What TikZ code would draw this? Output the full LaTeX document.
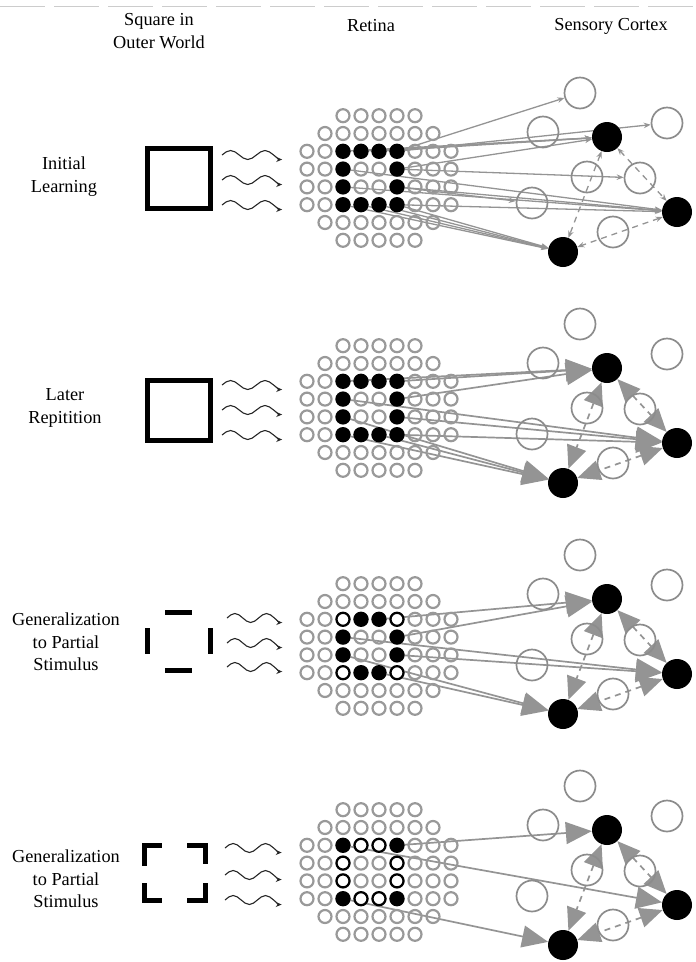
\documentclass[tikz,border=0pt]{standalone}
\usepackage{fontspec}
\setmainfont{Liberation Serif}
\usetikzlibrary{arrows.meta}
\pgfdeclarelayer{bg}
\pgfsetlayers{bg,main}
\definecolor{cellgray}{gray}{0.6}
\definecolor{linegray}{gray}{0.58}
\definecolor{ringgray}{gray}{0.55}
\tikzset{
 cell/.style={circle,draw=cellgray,line width=2.2pt,minimum size=13pt,inner sep=0pt},
 bcell/.style={circle,draw=black,fill=black,line width=2.2pt,minimum size=13pt,inner sep=0pt},
 ocell/.style={circle,draw=black,fill=white,line width=2.2pt,minimum size=13pt,inner sep=0pt},
 cring/.style={circle,draw=ringgray,line width=1.7pt,minimum size=31pt,inner sep=0pt},
 cdot/.style={circle,fill=black,minimum size=30pt,inner sep=0pt},
 thinarrow/.style={draw=linegray,line width=1.3pt,-{Stealth[length=7pt,width=5.5pt]}},
 bigarrow/.style={draw=linegray,line width=1.7pt,-{Triangle[length=26pt,width=22pt]}},
 thinlink/.style={draw=linegray,line width=1.3pt,dash pattern=on 6pt off 5pt,{Stealth[length=7pt,width=5.5pt]}-{Stealth[length=7pt,width=5.5pt]}},
 biglink/.style={draw=linegray,line width=1.7pt,dash pattern=on 6pt off 5pt,{Triangle[length=23pt,width=20pt]}-{Triangle[length=23pt,width=20pt]}},
 rowtext/.style={align=center,font=\fontsize{18.3}{22.5}\selectfont,inner sep=0pt},
 wavy/.style={draw=black!85,line width=1.1pt,-{Stealth[length=6pt,width=5pt]}},
 bar/.style={line width=5pt,line cap=rect,line join=miter,draw=black},
}
\newcommand{\retinagrid}[2]{%
  \foreach \r/\cmin/\cmax in {1/2/6,2/1/7,3/0/8,4/0/8,5/0/8,6/0/8,7/1/7,8/2/6}{
    \foreach \c in {\cmin,...,\cmax}{
      \node[cell] (r#1-\r-\c) at ({307+18*\c},{#2+(\r-4.5)*17.8}) {};
    }
  }
}
\newcommand{\bk}[3]{\node[bcell] (k#1-#2-#3) at (r#1-#2-#3) {};}
\newcommand{\ok}[3]{\node[ocell] (k#1-#2-#3) at (r#1-#2-#3) {};}
\newcommand{\cortexnet}[2]{%
  \node[cring] (top#1) at (580,#2-85) {};
  \node[cring] (a#1) at (543,#2-46) {};
  \node[cring] (tr#1) at (667,#2-55) {};
  \node[cring] (c#1) at (587,#2-1) {};
  \node[cring] (d#1) at (640,#2) {};
  \node[cring] (e#1) at (532,#2+25) {};
  \node[cring] (f#1) at (613,#2+54) {};
  \node[cdot] (up#1) at (607,#2-41) {};
  \node[cdot] (right#1) at (677,#2+34) {};
  \node[cdot] (low#1) at (563,#2+74) {};
}
% #1 start x, #2 quarter wave length, #3 y
\newcommand{\wavearrow}[3]{%
  \draw[wavy] (#1,#3) sin ++(#2,-4.5) cos ++(#2,4.5) sin ++(#2,4.5) cos ++(#2,-4.5)
    sin ++(#2,-4.5) cos ++(#2,4.5) sin ++(#2,4.5);
}
\begin{document}
\begin{tikzpicture}[x=1pt,y=-1pt]
\path[use as bounding box] (0,0) rectangle (696,962);
\draw[draw=black!20,line width=1pt,dash pattern=on 45pt off 9pt] (0,6) -- (696,6);

% headers
\node[rowtext] (h1) at (159,31) {Square in\\Outer World};
\node[rowtext] (h2) at (371,26) {Retina};
\node[rowtext] (h3) at (611,26) {Sensory Cortex};

% row labels
\node[rowtext] (lab1) at (64,176.5) {Initial\\Learning};
\node[rowtext] (lab2) at (65,408) {Later\\Repitition};
\node[rowtext] (lab3) at (66,642) {Generalization\\to Partial\\Stimulus};
\node[rowtext] (lab4) at (66,879) {Generalization\\to Partial\\Stimulus};

% squares in outer world
\draw[bar] (147,148) rectangle (210,208);
\draw[bar] (147,380) rectangle (210,440);
\draw[bar] (167.5,612.5) -- (189,612.5);
\draw[bar] (167.5,670.5) -- (189,670.5);
\draw[bar] (147.5,630) -- (147.5,651);
\draw[bar] (210,630) -- (210,651);
\draw[bar] (159,845.5) -- (144.5,845.5) -- (144.5,863);
\draw[bar] (189,845.5) -- (205.5,845.5) -- (205.5,861);
\draw[bar] (144.5,885) -- (144.5,900.5) -- (159,900.5);
\draw[bar] (205.5,885) -- (205.5,900.5) -- (189,900.5);

% waves
\wavearrow{222}{8.6}{155}\wavearrow{222}{8.6}{180}\wavearrow{222}{8.6}{205}
\wavearrow{222}{8.6}{385}\wavearrow{222}{8.6}{410}\wavearrow{222}{8.6}{435}
\wavearrow{227}{7.9}{618}\wavearrow{227}{7.9}{643}\wavearrow{227}{7.9}{667}
\wavearrow{225}{8.1}{848}\wavearrow{225}{8.1}{875}\wavearrow{225}{8.1}{900}

% retinas
\retinagrid{1}{178}
\retinagrid{2}{408}
\retinagrid{3}{646}
\retinagrid{4}{872}
\foreach \p in {1,2}{
  \bk{\p}{3}{2}\bk{\p}{3}{3}\bk{\p}{3}{4}\bk{\p}{3}{5}
  \bk{\p}{4}{2}\bk{\p}{4}{5}\bk{\p}{5}{2}\bk{\p}{5}{5}
  \bk{\p}{6}{2}\bk{\p}{6}{3}\bk{\p}{6}{4}\bk{\p}{6}{5}
}
\ok{3}{3}{2}\bk{3}{3}{3}\bk{3}{3}{4}\ok{3}{3}{5}
\bk{3}{4}{2}\bk{3}{4}{5}\bk{3}{5}{2}\bk{3}{5}{5}
\ok{3}{6}{2}\bk{3}{6}{3}\bk{3}{6}{4}\ok{3}{6}{5}
\bk{4}{3}{2}\ok{4}{3}{3}\ok{4}{3}{4}\bk{4}{3}{5}
\ok{4}{4}{2}\ok{4}{4}{5}\ok{4}{5}{2}\ok{4}{5}{5}
\bk{4}{6}{2}\ok{4}{6}{3}\ok{4}{6}{4}\bk{4}{6}{5}

% cortices
\cortexnet{1}{178}
\cortexnet{2}{409}
\cortexnet{3}{640}
\cortexnet{4}{871}

\begin{pgfonlayer}{bg}
% panel 1
\draw[thinarrow] (k1-3-5) -- (top1);
\draw[thinarrow] (k1-3-5) -- (tr1);
\draw[thinarrow] (k1-3-4) -- (up1);
\draw[thinarrow] (k1-3-3) -- (up1);
\draw[thinarrow] (k1-3-2) -- (up1);
\draw[thinarrow] (k1-4-5) -- (up1);
\draw[thinarrow] (k1-4-5) -- (d1);
\draw[thinarrow] (k1-5-5) -- (e1);
\draw[thinarrow] (k1-5-5) -- (right1);
\draw[thinarrow] (k1-4-2) -- (right1);
\draw[thinarrow] (k1-6-5) -- (right1);
\draw[thinarrow] (k1-5-2) -- (right1);
\draw[thinarrow] (k1-6-5) -- (low1);
\draw[thinarrow] (k1-6-4) -- (low1);
\draw[thinarrow] (k1-6-3) -- (low1);
\draw[thinarrow] (k1-6-2) -- (low1);
\draw[thinlink] (up1) -- (right1);
\draw[thinlink] (right1) -- (low1);
\draw[thinlink] (up1) -- (low1);
% panel 2
\draw[bigarrow] (k2-3-5) -- (up2);
\draw[bigarrow] (k2-4-5) -- (up2);
\draw[bigarrow] (k2-3-2) -- (up2);
\draw[bigarrow] (k2-4-2) -- (right2);
\draw[bigarrow] (k2-5-5) -- (right2);
\draw[bigarrow] (k2-6-5) -- (right2);
\draw[bigarrow] (k2-6-4) -- (low2);
\draw[bigarrow] (k2-6-2) -- (low2);
\draw[bigarrow] (k2-5-2) -- (low2);
\draw[biglink] (up2) -- (right2);
\draw[biglink] (right2) -- (low2);
\draw[biglink] (up2) -- (low2);
% panel 3
\draw[bigarrow] (k3-4-5) -- (up3);
\draw[bigarrow] (k3-3-4) -- (up3);
\draw[bigarrow] (k3-5-5) -- (right3);
\draw[bigarrow] (k3-4-2) -- (right3);
\draw[bigarrow] (k3-6-4) -- (low3);
\draw[bigarrow] (k3-5-2) -- (low3);
\draw[biglink] (up3) -- (right3);
\draw[biglink] (right3) -- (low3);
\draw[biglink] (up3) -- (low3);
% panel 4
\draw[bigarrow] (k4-3-5) -- (up4);
\draw[bigarrow] (k4-3-2) -- (right4);
\draw[bigarrow] (k4-6-2) -- (low4);
\draw[biglink] (up4) -- (right4);
\draw[biglink] (right4) -- (low4);
\draw[biglink] (up4) -- (low4);
\end{pgfonlayer}
\end{tikzpicture}
\end{document}
